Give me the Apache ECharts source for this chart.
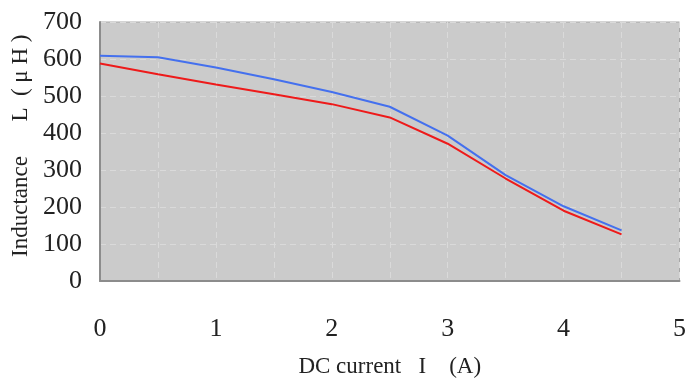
<!DOCTYPE html>
<html>
<head>
<meta charset="utf-8">
<script src="https://cdn.jsdelivr.net/npm/echarts@6/dist/echarts.min.js"></script>
<style>
  html, body { margin: 0; padding: 0; background: #fff; }
  #chart { width: 689px; height: 383px; }
</style>
</head>
<body>
<div id="chart"></div>
<script>
// DC current (A)
const currents = [0, 0.5, 1, 1.5, 2, 2.5, 3, 3.5, 4, 4.5];
// Inductance (uH)
const blueValues = [609, 605, 577, 545, 511, 471, 393, 286, 202, 137];
const redValues = [588, 559, 531, 505, 478, 442, 371, 277, 190, 126];

const pairs = (ys) => currents.map((x, i) => [x, ys[i]]);

const chart = echarts.init(document.getElementById("chart"));

const font = "'Liberation Serif', serif";

chart.setOption({
  backgroundColor: "#ffffff",
  animation: false,
  grid: {
    left: 100, right: 7, top: 22, bottom: 99,
    show: true,
    backgroundColor: "#cbcbcb",
    borderColor: "#a8a8a8",
    borderWidth: 1,
  },
  xAxis: {
    type: "value",
    min: 0, max: 5, interval: 0.5,
    name: "DC current   I    (A)",
    nameLocation: "middle",
    nameGap: 74,
    nameTextStyle: { fontFamily: font, fontSize: 23, color: "#222" },
    axisLine: { show: true, lineStyle: { color: "#8c8c8c", width: 2 } },
    axisTick: { show: false },
    axisLabel: {
      fontFamily: font, fontSize: 26, color: "#222", margin: 35,
      formatter: (v) => (Number.isInteger(v) ? String(v) : ""),
    },
    splitLine: { show: true, lineStyle: { color: "#dadada", type: [6, 4], width: 1 } },
  },
  yAxis: {
    type: "value",
    min: 0, max: 700, interval: 100,
    name: "  Inductance\u2003  L  ( μ H )",
    nameLocation: "middle",
    nameGap: 68,
    nameTextStyle: { fontFamily: font, fontSize: 23, color: "#222" },
    axisLine: { show: true, lineStyle: { color: "#8c8c8c", width: 2 } },
    axisTick: { show: false },
    axisLabel: {
      fontFamily: font, fontSize: 26, color: "#222", margin: 18,
      padding: [7, 0, 0, 0],
    },
    splitLine: { show: true, lineStyle: { color: "#dadada", type: [6, 4], width: 1 } },
  },
  series: [
    {
      type: "line",
      data: pairs(blueValues),
      symbol: "none",
      lineStyle: { color: "#4470ee", width: 2 },
    },
    {
      type: "line",
      data: pairs(redValues),
      symbol: "none",
      lineStyle: { color: "#ee1a1a", width: 2 },
    },
  ],
});
</script>
</body>
</html>
